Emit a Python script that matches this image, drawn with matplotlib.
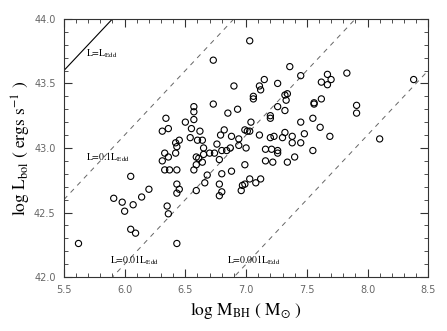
import numpy as np
import matplotlib
matplotlib.use("Agg")
import matplotlib.pyplot as plt
from matplotlib.ticker import MultipleLocator

plt.rcParams['mathtext.fontset'] = 'stix'

# black hole mass vs bolometric luminosity
log_mbh = [7.03, 6.73, 7.36, 7.45, 7.26, 7.15, 7.11, 7.12, 6.90, 7.06,
           7.06, 7.32, 7.34, 7.33, 6.73, 6.57, 6.57, 6.85, 6.93, 7.26,
           7.32, 7.20, 7.20, 6.57, 7.04, 7.45, 6.55, 6.62, 6.82, 6.99,
           7.01, 7.03, 6.79, 6.88, 7.11, 7.32, 7.48, 7.20, 7.23, 7.30,
           7.38, 6.60, 6.64, 6.54, 6.76, 6.94, 7.38, 7.45, 7.83, 7.67,
           7.70, 7.62, 7.67, 8.38, 7.62, 7.56, 7.56, 7.91, 7.91, 7.55,
           7.61, 7.69, 8.10, 6.34, 6.50, 6.31, 6.36, 6.45, 6.42, 6.65,
           6.59, 6.61, 6.65, 6.70, 6.74, 6.80, 6.84, 6.87, 6.94, 7.00,
           6.78, 6.59, 6.64, 6.57, 6.68, 6.80, 6.88, 6.99, 7.16, 7.21,
           7.26, 7.26, 7.16, 7.22, 7.34, 7.40, 7.55, 6.66, 6.59, 6.78,
           6.78, 6.80, 6.96, 6.97, 6.99, 7.03, 7.08, 7.12, 6.33, 6.36,
           6.31, 6.42, 6.43, 6.33, 6.37, 6.43, 6.05, 6.43, 6.45, 6.43,
           6.20, 6.14, 5.91, 5.98, 6.07, 6.00, 6.35, 6.36, 6.05, 6.09,
           5.62, 6.43]
log_lbol = [43.83, 43.68, 43.63, 43.56, 43.50, 43.53, 43.48, 43.45, 43.48, 43.40,
            43.38, 43.41, 43.42, 43.37, 43.34, 43.32, 43.28, 43.27, 43.30, 43.32,
            43.29, 43.25, 43.23, 43.22, 43.20, 43.20, 43.15, 43.13, 43.14, 43.14,
            43.13, 43.13, 43.10, 43.09, 43.10, 43.12, 43.11, 43.08, 43.09, 43.08,
            43.09, 43.06, 43.06, 43.08, 43.03, 43.07, 43.04, 43.04, 43.58, 43.57,
            43.53, 43.51, 43.49, 43.53, 43.38, 43.35, 43.34, 43.33, 43.27, 43.23,
            43.16, 43.09, 43.07, 43.23, 43.20, 43.13, 43.15, 43.06, 43.04, 43.00,
            42.93, 42.92, 42.95, 42.96, 42.96, 42.98, 42.98, 43.00, 43.02, 43.00,
            42.91, 42.87, 42.89, 42.83, 42.79, 42.80, 42.82, 42.87, 42.99, 42.99,
            42.98, 42.96, 42.90, 42.89, 42.89, 42.93, 42.98, 42.73, 42.67, 42.72,
            42.63, 42.66, 42.67, 42.71, 42.72, 42.76, 42.73, 42.76, 42.96, 42.93,
            42.90, 42.96, 43.01, 42.83, 42.83, 42.83, 42.78, 42.72, 42.68, 42.65,
            42.68, 42.62, 42.61, 42.58, 42.56, 42.51, 42.55, 42.49, 42.37, 42.34,
            42.26, 42.26]

# Eddington ratio lines: log L = log M + 38.1 + log(ratio)
edd_offsets = [38.1, 37.1, 36.1, 35.1]
edd_labels = [r'L=L$_{\mathrm{Edd}}$', r'L=0.1L$_{\mathrm{Edd}}$',
              r'L=0.01L$_{\mathrm{Edd}}$', r'L=0.001L$_{\mathrm{Edd}}$']
label_pos = [(5.68, 43.73), (5.68, 42.93), (5.88, 42.13), (6.84, 42.13)]

fig = plt.figure(figsize=(4.47, 3.31), dpi=100)
ax = fig.add_axes([0.143, 0.163, 0.815, 0.78])

xx = np.array([5.5, 8.5])
for i, off in enumerate(edd_offsets):
    if i == 0:
        ax.plot(xx, xx + off, color='black', lw=0.8)
    else:
        ax.plot(xx, xx + off, color='#666666', lw=0.7, ls=(0, (5, 5)))
    ax.text(label_pos[i][0], label_pos[i][1], edd_labels[i], fontsize=7,
            family='STIXGeneral', ha='left', va='center')

ax.scatter(log_mbh, log_lbol, s=20, facecolors='none', edgecolors='black',
           linewidths=0.8, zorder=3)

ax.set_xlim(5.5, 8.5)
ax.set_ylim(42.0, 44.0)
ax.xaxis.set_major_locator(MultipleLocator(0.5))
ax.xaxis.set_minor_locator(MultipleLocator(0.1))
ax.yaxis.set_major_locator(MultipleLocator(0.5))
ax.yaxis.set_minor_locator(MultipleLocator(0.1))
ax.xaxis.set_major_formatter('{x:.1f}')
ax.yaxis.set_major_formatter('{x:.1f}')
ax.tick_params(which='both', direction='in', top=True, right=True,
               labelsize=7, labelcolor='#666666', color='#333333')
ax.tick_params(which='major', length=6, width=0.8, pad=6)
ax.tick_params(which='minor', length=3, width=0.6)
for sp in ax.spines.values():
    sp.set_linewidth(0.8)
    sp.set_color('#333333')

ax.set_xlabel(r'log M$_{\mathrm{BH}}$ ( M$_{\odot}$ )', fontsize=12.5,
              family='STIXGeneral', labelpad=3)
ax.set_ylabel(r'log L$_{\mathrm{bol}}$ ( ergs s$^{-1}$ )', fontsize=12.5,
              family='STIXGeneral', labelpad=1)

fig.savefig('out.png', dpi=100)
